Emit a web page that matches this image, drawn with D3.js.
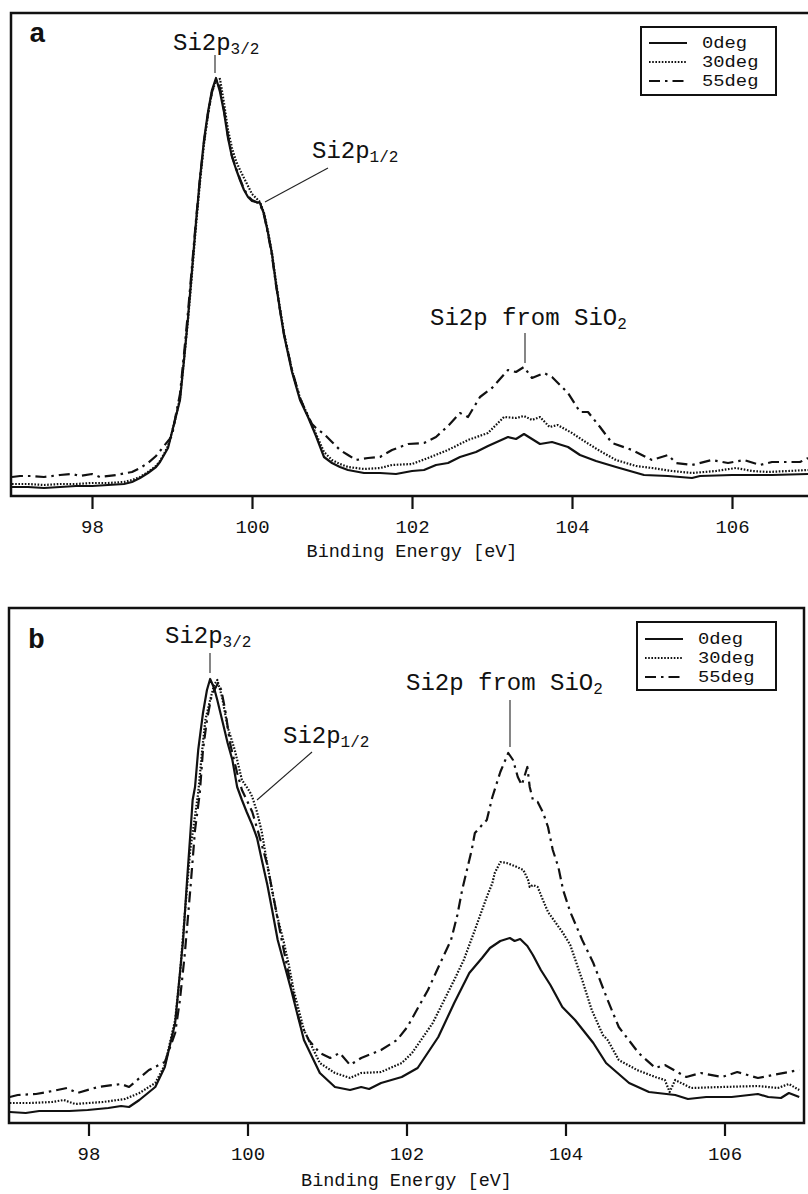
<!DOCTYPE html>
<html><head><meta charset="utf-8">
<script src="https://cdn.jsdelivr.net/npm/d3@7/dist/d3.min.js"></script>
<style>body{margin:0;background:#fff}</style>
</head><body>
<svg id="chart" width="808" height="1194" xmlns="http://www.w3.org/2000/svg"></svg>
<script>
// ---------- data (binding energy eV, intensity a.u.) ----------
const seriesNames = ["0deg", "30deg", "55deg"];
const xTickValues = [98, 100, 102, 104, 106];
const xLabel = "Binding Energy [eV]";

const panelA_0deg = [[97.0,9],[97.2,9],[97.4,8],[97.6,9],[97.8,10],[98.0,10],[98.2,11],[98.4,12],[98.5,14],[98.6,18],[98.7,23],[98.8,29],[98.85,34],[98.9,41],[98.95,48],[99.0,64],[99.05,80],[99.1,96],[99.15,136],[99.2,178],[99.25,226],[99.3,274],[99.35,318],[99.4,356],[99.45,384],[99.5,406],[99.55,418],[99.6,404],[99.65,384],[99.7,358],[99.75,339],[99.8,327],[99.85,316],[99.9,306],[99.95,299],[100.0,295],[100.05,294],[100.1,293],[100.15,282],[100.2,263],[100.25,242],[100.3,212],[100.35,186],[100.4,161],[100.5,124],[100.6,96],[100.7,79],[100.8,60],[100.9,39],[101.0,33],[101.1,29],[101.2,26],[101.4,23],[101.6,23],[101.8,22],[102.0,25],[102.15,26],[102.3,31],[102.45,33],[102.6,39],[102.8,44],[102.95,50],[103.2,59],[103.3,57],[103.4,62],[103.6,52],[103.75,54],[103.95,49],[104.1,41],[104.3,35],[104.55,29],[104.9,21],[105.2,20],[105.5,18],[105.6,20],[106.0,21],[106.5,21],[106.95,22]];
const panelA_30deg = [[97.0,12],[97.2,12],[97.4,11],[97.6,12],[97.8,12],[98.0,13],[98.2,13],[98.4,14],[98.5,16],[98.6,19],[98.7,24],[98.8,30],[98.85,35],[98.9,42],[98.95,50],[99.0,64],[99.05,80],[99.1,98],[99.15,136],[99.2,176],[99.25,222],[99.3,270],[99.35,314],[99.4,352],[99.45,382],[99.5,404],[99.55,415],[99.6,417],[99.65,393],[99.7,366],[99.75,348],[99.8,335],[99.85,326],[99.9,318],[99.95,310],[100.0,302],[100.05,298],[100.1,294],[100.15,283],[100.2,265],[100.25,243],[100.3,214],[100.35,188],[100.4,163],[100.5,126],[100.6,98],[100.7,80],[100.8,62],[100.9,44],[101.0,36],[101.1,32],[101.2,29],[101.4,27],[101.6,28],[101.75,31],[102.0,32],[102.2,38],[102.45,46],[102.7,56],[102.95,63],[103.15,79],[103.3,78],[103.4,80],[103.5,76],[103.6,79],[103.72,69],[103.82,71],[104.0,63],[104.15,55],[104.35,45],[104.55,36],[104.8,30],[105.0,28],[105.25,25],[105.5,23],[105.8,25],[106.05,28],[106.25,25],[106.45,24],[106.7,25],[106.95,26]];
const panelA_55deg = [[97.0,19],[97.1,20],[97.25,20],[97.4,19],[97.6,21],[97.75,22],[97.85,20],[98.0,22],[98.1,19],[98.3,21],[98.5,24],[98.6,28],[98.7,33],[98.8,40],[98.9,50],[99.0,60],[99.05,82],[99.1,102],[99.15,142],[99.2,184],[99.25,230],[99.3,276],[99.35,318],[99.4,354],[99.45,382],[99.5,404],[99.55,416],[99.6,408],[99.65,386],[99.7,360],[99.75,340],[99.8,328],[99.85,317],[99.9,307],[99.95,300],[100.0,296],[100.05,294],[100.1,292],[100.15,281],[100.2,262],[100.25,240],[100.3,211],[100.35,186],[100.4,162],[100.5,126],[100.6,98],[100.7,80],[100.75,72],[100.8,68],[100.9,62],[101.0,54],[101.1,46],[101.2,41],[101.3,36],[101.45,38],[101.6,39],[101.75,46],[101.95,52],[102.15,53],[102.3,59],[102.45,70],[102.6,83],[102.7,79],[102.85,99],[103.0,108],[103.2,126],[103.3,124],[103.4,129],[103.5,118],[103.65,123],[103.75,119],[103.95,103],[104.1,84],[104.2,84],[104.35,69],[104.5,53],[104.75,46],[105.0,36],[105.2,41],[105.3,33],[105.5,31],[105.75,36],[105.95,33],[106.15,36],[106.35,31],[106.5,34],[106.85,34],[106.95,38]];

const panelB_0deg = [[97.01,11],[97.21,10],[97.38,12],[97.54,12],[97.76,12],[97.99,13],[98.25,15],[98.41,17],[98.51,16],[98.64,23],[98.84,36],[98.96,56],[99.09,100],[99.15,150],[99.19,183],[99.24,243],[99.28,288],[99.31,323],[99.34,336],[99.38,373],[99.44,410],[99.49,433],[99.53,444],[99.58,435],[99.62,423],[99.69,400],[99.75,380],[99.81,363],[99.87,336],[99.93,323],[99.99,311],[100.06,298],[100.12,285],[100.18,263],[100.25,238],[100.31,213],[100.38,183],[100.55,133],[100.71,83],[100.91,50],[101.1,36],[101.29,33],[101.43,36],[101.53,34],[101.68,40],[101.94,46],[102.14,55],[102.4,86],[102.6,120],[102.79,150],[102.95,165],[103.05,175],[103.18,182],[103.3,185],[103.36,182],[103.43,184],[103.52,177],[103.59,168],[103.69,153],[103.81,138],[103.96,116],[104.12,103],[104.35,80],[104.51,60],[104.8,40],[105.05,31],[105.38,28],[105.54,24],[105.77,26],[106.09,26],[106.42,29],[106.55,26],[106.71,25],[106.81,30],[106.94,26]];
const panelB_30deg = [[97.01,20],[97.26,20],[97.54,21],[97.69,23],[97.83,19],[98.18,21],[98.46,24],[98.64,30],[98.84,40],[98.96,58],[99.09,103],[99.15,148],[99.21,208],[99.28,273],[99.38,330],[99.43,373],[99.47,403],[99.53,423],[99.58,438],[99.62,443],[99.68,426],[99.75,396],[99.84,373],[99.93,343],[99.99,336],[100.03,331],[100.06,326],[100.12,311],[100.18,291],[100.25,258],[100.31,232],[100.37,208],[100.45,183],[100.52,158],[100.58,133],[100.71,93],[100.91,60],[101.1,50],[101.29,45],[101.43,50],[101.68,51],[101.94,60],[102.07,70],[102.33,100],[102.6,143],[102.72,163],[102.86,193],[103.01,226],[103.08,240],[103.11,250],[103.18,261],[103.26,260],[103.36,257],[103.47,253],[103.53,243],[103.55,236],[103.59,238],[103.65,236],[103.7,226],[103.78,211],[103.87,201],[103.96,191],[104.06,178],[104.21,143],[104.33,113],[104.47,88],[104.53,83],[104.67,63],[104.9,53],[105.13,46],[105.25,43],[105.31,31],[105.38,43],[105.58,35],[105.97,36],[106.42,37],[106.67,35],[106.81,39],[106.94,33]];
const panelB_55deg = [[97.01,26],[97.11,28],[97.34,29],[97.55,32],[97.73,35],[97.86,30],[98.12,36],[98.41,39],[98.51,36],[98.76,53],[98.96,61],[99.09,90],[99.15,123],[99.21,168],[99.28,233],[99.34,293],[99.4,330],[99.44,373],[99.49,403],[99.55,428],[99.63,440],[99.67,433],[99.72,413],[99.78,380],[99.87,350],[99.93,333],[99.99,323],[100.06,311],[100.12,295],[100.18,278],[100.25,258],[100.31,233],[100.37,208],[100.43,183],[100.52,148],[100.65,103],[100.77,83],[100.91,70],[101.04,65],[101.16,70],[101.29,58],[101.43,65],[101.68,73],[101.88,83],[102.01,96],[102.27,133],[102.46,166],[102.56,183],[102.64,208],[102.7,233],[102.76,253],[102.82,273],[102.86,290],[102.95,298],[103.01,303],[103.08,326],[103.18,351],[103.28,370],[103.34,363],[103.4,346],[103.45,338],[103.52,356],[103.55,336],[103.59,323],[103.65,321],[103.72,310],[103.78,296],[103.84,273],[103.91,256],[103.97,233],[104.06,211],[104.13,198],[104.21,183],[104.35,160],[104.53,123],[104.67,96],[104.92,70],[105.13,55],[105.25,58],[105.52,46],[105.7,50],[105.97,46],[106.16,51],[106.42,45],[106.61,48],[106.94,53]];

// ---------- styling ----------
const FONT = "'Liberation Mono','Courier New',monospace";
const dashes = ["none", "1.6,1.6", "11,5,2.5,5"];
const widths = [2.2, 2.2, 2.2];

const svg = d3.select("#chart");

const panels = [
  { tag: "a", data: [panelA_0deg, panelA_30deg, panelA_55deg],
    left: 11, right: 814, top: 13, bottom: 496, xr: [12, 812], ymax: 483,
    legend: { x: 641, y: 27, w: 135, rows: [43, 62, 81] },
    tagPos: [29, 42],
    notes: [
      { text: "Si2p", sub: "3/2", x: 173, y: 50, line: [[215, 55], [215, 73]] },
      { text: "Si2p", sub: "1/2", x: 312, y: 158, line: [[328, 168], [265, 202]] },
      { text: "Si2p from SiO", sub: "2", x: 430, y: 325, line: [[525, 333], [525, 363]] }
    ],
    labelY: 557 },
  { tag: "b", data: [panelB_0deg, panelB_30deg, panelB_55deg],
    left: 9, right: 804, top: 608, bottom: 1123, xr: [9, 804], ymax: 515,
    legend: { x: 637, y: 622, w: 139, rows: [639, 658, 677] },
    tagPos: [28, 648],
    notes: [
      { text: "Si2p", sub: "3/2", x: 165, y: 643, line: [[210, 653], [210, 673]] },
      { text: "Si2p", sub: "1/2", x: 283, y: 743, line: [[312, 752], [257, 800]] },
      { text: "Si2p from SiO", sub: "2", x: 406, y: 690, line: [[510, 700], [510, 747]] }
    ],
    labelY: 1186 }
];

panels.forEach((p) => {
  const x = d3.scaleLinear().domain([97, 107]).range(p.xr);
  const y = d3.scaleLinear().domain([0, p.ymax]).range([p.bottom, p.top]);
  const g = svg.append("g");

  const clipId = "clip" + p.tag;
  svg.append("clipPath").attr("id", clipId).append("rect")
    .attr("x", p.left).attr("y", p.top).attr("width", Math.min(p.right, 808) - p.left).attr("height", p.bottom - p.top);

  // curves
  const line = d3.line().x(d => x(d[0])).y(d => y(d[1])).curve(d3.curveLinear);
  const cg = g.append("g").attr("clip-path", `url(#${clipId})`);
  p.data.forEach((ser, si) => {
    cg.append("path").datum(ser).attr("d", line)
      .attr("fill", "none").attr("stroke", "#111")
      .attr("stroke-width", widths[si])
      .attr("stroke-dasharray", dashes[si])
      .attr("stroke-linejoin", "round");
  });

  // frame
  g.append("rect").attr("x", p.left).attr("y", p.top)
    .attr("width", p.right - p.left).attr("height", p.bottom - p.top)
    .attr("fill", "none").attr("stroke", "#111").attr("stroke-width", 2.5);

  // x axis
  const axis = d3.axisBottom(x).tickValues(xTickValues).tickSize(13).tickPadding(11).tickFormat(d3.format("d"));
  const ag = g.append("g").attr("transform", `translate(0,${p.bottom})`).call(axis);
  ag.select(".domain").remove();
  ag.selectAll(".tick line").attr("stroke", "#111").attr("stroke-width", 2.2);
  ag.selectAll(".tick text").attr("font-family", FONT).attr("font-size", 19).attr("fill", "#111");

  g.append("text").attr("x", x(102)).attr("y", p.labelY).attr("text-anchor", "middle")
    .attr("font-family", FONT).attr("font-size", 18.5).attr("fill", "#111").text(xLabel);

  // panel tag
  g.append("text").attr("x", p.tagPos[0]).attr("y", p.tagPos[1])
    .attr("font-family", FONT).attr("font-weight", "bold").attr("font-size", 28).attr("fill", "#111").text(p.tag);

  // annotations
  p.notes.forEach(n => {
    const t = g.append("text").attr("x", n.x).attr("y", n.y)
      .attr("font-family", FONT).attr("font-size", 24).attr("fill", "#111");
    t.append("tspan").text(n.text);
    t.append("tspan").attr("dy", 4).attr("font-size", 16).text(n.sub);
    const pts = n.line;
    g.append("line").attr("x1", pts[0][0]).attr("y1", pts[0][1]).attr("x2", pts[1][0]).attr("y2", pts[1][1])
      .attr("stroke", "#222").attr("stroke-width", 1.1);
  });

  // legend
  const L = p.legend;
  const lh = L.rows[2] - L.rows[0] + 30;
  g.append("rect").attr("x", L.x).attr("y", L.y).attr("width", L.w).attr("height", lh)
    .attr("fill", "#fff").attr("stroke", "#111").attr("stroke-width", 2);
  seriesNames.forEach((nm, si) => {
    g.append("line").attr("x1", L.x + 8).attr("x2", L.x + 46).attr("y1", L.rows[si]).attr("y2", L.rows[si])
      .attr("stroke", "#111").attr("stroke-width", widths[si]).attr("stroke-dasharray", dashes[si]);
    const tx = L.x + 61, ty = L.rows[si] + 5;
    g.append("text").attr("transform", `translate(${tx},${ty}) scale(1.14,1)`)
      .attr("font-family", FONT).attr("font-size", 16.5).attr("fill", "#111").text(nm);
  });
});
</script>
</body></html>
